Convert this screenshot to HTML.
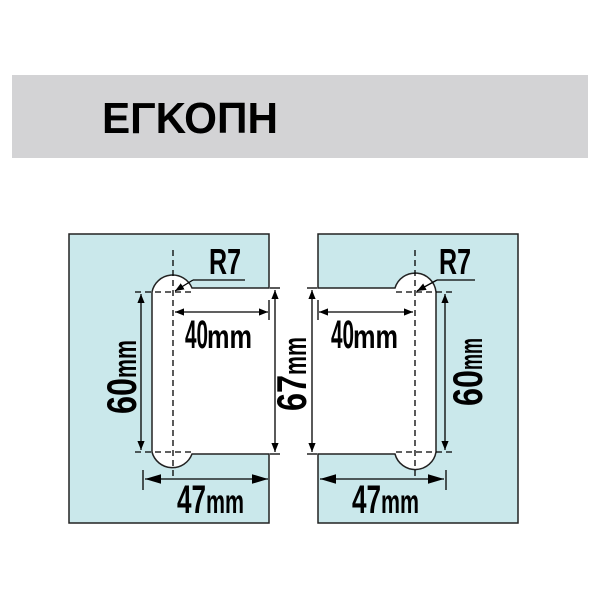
<!DOCTYPE html>
<html><head><meta charset="utf-8"><style>body{margin:0;background:#fff}svg{display:block}</style></head>
<body>
<svg width="600" height="600" viewBox="0 0 600 600" xmlns="http://www.w3.org/2000/svg" font-family="Liberation Sans, sans-serif" font-weight="bold">
<defs>
<marker id="a" viewBox="0 0 10 10" refX="10" refY="5" markerWidth="9" markerHeight="9" orient="auto-start-reverse" markerUnits="userSpaceOnUse"><path d="M0,1 L10,5 L0,9 z" fill="#000"/></marker>
<marker id="b" viewBox="0 0 10 10" refX="10" refY="5" markerWidth="16" markerHeight="16" orient="auto-start-reverse" markerUnits="userSpaceOnUse"><path d="M0,2 L10,5 L0,8 z" fill="#000"/></marker>
</defs>
<rect x="12" y="75" width="576" height="83" fill="#d3d3d5"/>
<text x="102" y="133" font-size="44" textLength="176" lengthAdjust="spacingAndGlyphs">ΕΓΚΟΠΗ</text>

<!-- left panel -->
<path d="M69,234 H269 V288 H192 A21,21 0 0 0 152,292 V452 A21,21 0 0 0 192,454 H269 V523 H69 Z" fill="#cae8eb" stroke="#222" stroke-width="1.5"/>
<g stroke="#000" stroke-width="1.3" fill="none">
<line x1="173" y1="250" x2="173" y2="478" stroke-dasharray="6,4"/>
<line x1="135" y1="292" x2="192" y2="292" stroke-dasharray="6,4"/>
<line x1="135" y1="452" x2="192" y2="452" stroke-dasharray="6,4"/>
<line x1="141" y1="294" x2="141" y2="450" marker-start="url(#a)" marker-end="url(#a)"/>
<line x1="175" y1="312" x2="268" y2="312" marker-start="url(#a)" marker-end="url(#a)"/>
<line x1="269" y1="300" x2="269" y2="320"/>
<line x1="275" y1="290" x2="275" y2="452" marker-start="url(#a)" marker-end="url(#a)"/>
<line x1="270" y1="288" x2="280" y2="288"/><line x1="270" y1="454" x2="280" y2="454"/>
<line x1="145" y1="479" x2="268" y2="479" marker-start="url(#b)" marker-end="url(#b)"/>
<line x1="143" y1="470" x2="143" y2="490"/>
<line x1="245" y1="280" x2="193" y2="280"/>
<line x1="193" y1="280" x2="175" y2="291" marker-end="url(#a)"/>
</g>
<text x="209" y="274" font-size="36" textLength="32" lengthAdjust="spacingAndGlyphs">R7</text>
<text x="185" y="348" font-size="40" textLength="23" lengthAdjust="spacingAndGlyphs">40</text><text x="207" y="348" font-size="33" textLength="45" lengthAdjust="spacingAndGlyphs">mm</text>
<text x="177" y="513" font-size="40" textLength="29" lengthAdjust="spacingAndGlyphs">47</text><text x="206" y="513" font-size="33" textLength="38" lengthAdjust="spacingAndGlyphs">mm</text>
<g transform="translate(136,378) rotate(-90)"><text x="-36" y="0" font-size="42" textLength="36" lengthAdjust="spacingAndGlyphs">60</text><text x="0" y="0" font-size="32" textLength="38" lengthAdjust="spacingAndGlyphs">mm</text></g>
<g transform="translate(306,375) rotate(-90)"><text x="-36" y="0" font-size="42" textLength="36" lengthAdjust="spacingAndGlyphs">67</text><text x="0" y="0" font-size="32" textLength="38" lengthAdjust="spacingAndGlyphs">mm</text></g>

<!-- right panel -->
<path d="M318,234 H518 V523 H318 V454 H395 A21,21 0 0 0 436,452 V292 A21,21 0 0 0 395,288 H318 Z" fill="#cae8eb" stroke="#222" stroke-width="1.5"/>
<g stroke="#000" stroke-width="1.3" fill="none">
<line x1="415" y1="250" x2="415" y2="478" stroke-dasharray="6,4"/>
<line x1="396" y1="292" x2="452" y2="292" stroke-dasharray="6,4"/>
<line x1="396" y1="452" x2="452" y2="452" stroke-dasharray="6,4"/>
<line x1="445" y1="294" x2="445" y2="450" marker-start="url(#a)" marker-end="url(#a)"/>
<line x1="319" y1="312" x2="413" y2="312" marker-start="url(#a)" marker-end="url(#a)"/>
<line x1="318" y1="300" x2="318" y2="320"/>
<line x1="312" y1="290" x2="312" y2="452" marker-start="url(#a)" marker-end="url(#a)"/>
<line x1="307" y1="288" x2="317" y2="288"/><line x1="307" y1="454" x2="317" y2="454"/>
<line x1="320" y1="479" x2="444" y2="479" marker-start="url(#b)" marker-end="url(#b)"/>
<line x1="446" y1="470" x2="446" y2="490"/>
<line x1="475" y1="280" x2="437" y2="280"/>
<line x1="437" y1="280" x2="417" y2="291" marker-end="url(#a)"/>
</g>
<text x="439" y="274" font-size="36" textLength="32" lengthAdjust="spacingAndGlyphs">R7</text>
<text x="331" y="348" font-size="40" textLength="23" lengthAdjust="spacingAndGlyphs">40</text><text x="353" y="348" font-size="33" textLength="45" lengthAdjust="spacingAndGlyphs">mm</text>
<text x="352" y="513" font-size="40" textLength="29" lengthAdjust="spacingAndGlyphs">47</text><text x="381" y="513" font-size="33" textLength="38" lengthAdjust="spacingAndGlyphs">mm</text>
<g transform="translate(482,370) rotate(-90)"><text x="-36" y="0" font-size="42" textLength="36" lengthAdjust="spacingAndGlyphs">60</text><text x="0" y="0" font-size="32" textLength="32" lengthAdjust="spacingAndGlyphs">mm</text></g>
</svg>
</body></html>
